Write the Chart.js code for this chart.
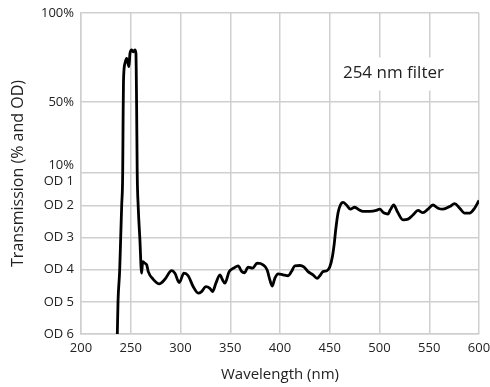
<!DOCTYPE html>
<html lang="en">
<head>
    <meta charset="UTF-8">
    <title>254 nm filter</title>
    <script src="https://cdn.jsdelivr.net/npm/chart.js"></script>
    <style>
        html, body { margin: 0; padding: 0; background: #fff; }
        #wrap { width: 490px; height: 387px; }
    </style>
</head>
<body>
    <div id="wrap"><canvas id="filterChart"></canvas></div>

    <script>
        // Wavelength (nm) and optical density
        const wavelengths = [
            236.5, 237.2, 238.9, 239.9, 240.9, 241.9, 242.3, 242.7, 244.2, 245.9,
            248.2, 249.2, 250.9, 252.5, 254.2, 255.2, 255.9, 256.5, 257.5, 259.2,
            260.9, 262.0, 264.0, 266.0, 267.6, 272.6, 278.6, 284.3, 291.1, 294.4,
            298.7, 303.4, 307.7, 312.8, 317.8, 321.2, 325.5, 329.5, 332.2, 335.6,
            339.6, 342.3, 344.6, 348.9, 353.6, 358.0, 361.3, 364.2, 368.0, 372.4,
            377.0, 383.0, 387.1, 389.8, 392.1, 394.8, 398.1, 403.1, 408.2, 411.5,
            414.9, 419.9, 423.9, 428.2, 433.2, 437.3, 440.0, 443.3, 447.3, 450.0,
            452.7, 454.5, 456.0, 458.3, 460.7, 463.4, 466.8, 470.8, 475.1, 479.4,
            483.5, 490.2, 496.9, 500.2, 504.2, 508.5, 510.9, 514.3, 518.0, 523.6,
            528.6, 533.6, 538.7, 543.7, 548.7, 553.7, 558.8, 563.8, 570.5, 575.5,
            580.6, 585.6, 590.6, 595.6, 600.0
        ];
        const opticalDensity = [
            6.0, 5.0, 4.0, 3.0, 2.0, 1.0, 0.40, 0.21, 0.144, 0.128,
            0.156, 0.112, 0.101, 0.107, 0.101, 0.112, 0.325, 1.0, 2.04, 3.07,
            4.11, 3.75, 3.80, 3.85, 4.06, 4.30, 4.44, 4.30, 4.03, 4.11,
            4.40, 4.11, 4.19, 4.53, 4.73, 4.68, 4.53, 4.58, 4.68, 4.42,
            4.16, 4.32, 4.42, 4.06, 3.95, 3.88, 4.05, 4.10, 3.92, 3.95,
            3.80, 3.85, 4.01, 4.32, 4.51, 4.27, 4.13, 4.16, 4.19, 4.06,
            3.88, 3.87, 3.91, 4.06, 4.16, 4.27, 4.19, 4.06, 4.03, 3.92,
            3.59, 3.20, 2.76, 2.24, 1.99, 1.91, 1.99, 2.12, 2.06, 2.14,
            2.19, 2.19, 2.16, 2.12, 2.23, 2.27, 2.14, 1.99, 2.20, 2.45,
            2.43, 2.30, 2.16, 2.23, 2.12, 1.99, 2.09, 2.12, 2.04, 1.95,
            2.09, 2.24, 2.24, 2.09, 1.85
        ];

        // y ticks, given as optical density (100% = OD 0, 50% = OD 0.301)
        const yTickOD = [0, 0.30103, 1, 2, 3, 4, 5, 6];
        const yTickLabels = ['100%', '50%', ['10%', 'OD 1'], 'OD 2', 'OD 3', 'OD 4', 'OD 5', 'OD 6'];
        const xTicks = [200, 250, 300, 350, 400, 450, 500, 550, 600];
        const annotationText = '254 nm filter';

        // axis is linear in % above 10%, then one fixed step per OD below it
        const ODSTEP = 18.08;
        function toAxis(od) {
            if (od <= 1) return 100 * Math.pow(10, -od);
            return 10 - (od - 1) * ODSTEP;
        }

        const points = wavelengths.map((w, i) => ({ x: w, y: toAxis(opticalDensity[i]) }));
        const yTickVals = yTickOD.map(toAxis);

        const FONT = "'Open Sans', sans-serif";
        const TEXT = '#222';
        const GRID = '#cfcfcf';

        const annotation = {
            id: 'annotation',
            beforeDatasetsDraw(chart) {
                const { ctx, scales } = chart;
                const x = scales.x.getPixelForValue(514);
                const y = scales.y.getPixelForValue(66);
                ctx.save();
                ctx.font = '17px ' + FONT;
                const w = ctx.measureText(annotationText).width;
                ctx.fillStyle = '#fff';
                ctx.fillRect(x - w / 2 - 4, y - 16, w + 8, 33);
                ctx.fillStyle = TEXT;
                ctx.textAlign = 'center';
                ctx.textBaseline = 'middle';
                ctx.fillText(annotationText, x, y);
                ctx.restore();
            }
        };

        new Chart(document.getElementById('filterChart'), {
            type: 'line',
            data: {
                datasets: [{
                    data: points,
                    borderColor: '#000',
                    borderWidth: 2.8,
                    pointRadius: 0,
                    cubicInterpolationMode: 'monotone',
                    fill: false
                }]
            },
            options: {
                responsive: true,
                maintainAspectRatio: false,
                animation: false,
                layout: { padding: { top: 13, right: 11, left: 0, bottom: 0 } },
                plugins: { legend: { display: false }, tooltip: { enabled: false } },
                scales: {
                    x: {
                        type: 'linear',
                        min: 200,
                        max: 600,
                        afterBuildTicks: s => { s.ticks = xTicks.map(v => ({ value: v })); },
                        afterFit: s => { s.height = 53; s.paddingLeft = 0; s.paddingRight = 0; },
                        grid: { color: GRID, lineWidth: 1.5, drawTicks: false },
                        border: { color: GRID, width: 1.5 },
                        ticks: { color: TEXT, font: { family: FONT, size: 13 }, padding: 6, maxRotation: 0 },
                        title: {
                            display: true,
                            text: 'Wavelength (nm)',
                            color: TEXT,
                            font: { family: FONT, size: 15 },
                            padding: { top: 0, bottom: 3 }
                        }
                    },
                    y: {
                        type: 'linear',
                        min: toAxis(6),
                        max: 100,
                        afterBuildTicks: s => { s.ticks = yTickVals.map(v => ({ value: v })); },
                        afterFit: s => { s.width = 81; s.paddingTop = 0; s.paddingBottom = 0; },
                        grid: { color: GRID, lineWidth: 1.5, drawTicks: false },
                        border: { color: GRID, width: 1.5 },
                        ticks: {
                            color: TEXT,
                            font: { family: FONT, size: 13 },
                            padding: 7,
                            callback: (v, i) => yTickLabels[i]
                        },
                        title: {
                            display: true,
                            text: 'Transmission (% and OD)',
                            color: TEXT,
                            font: { family: FONT, size: 16 },
                            padding: { top: 9, bottom: 0 }
                        }
                    }
                }
            },
            plugins: [annotation]
        });
    </script>
</body>
</html>
